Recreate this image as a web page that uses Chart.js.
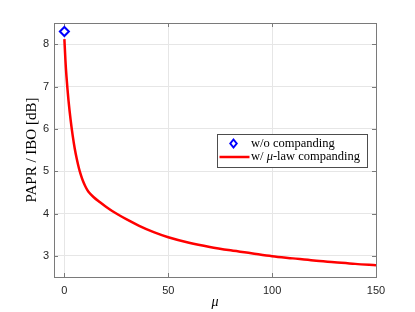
<!DOCTYPE html>
<html>
<head>
<meta charset="utf-8">
<script src="https://cdn.jsdelivr.net/npm/chart.js@4"></script>
<style>
  body { margin: 0; background: #fff; }
  #wrap { width: 415px; height: 312px; }
</style>
</head>
<body>
<div id="wrap"><canvas id="paprChart"></canvas></div>
<script>
// valores
const muCompanded = [0, 0.5, 1, 1.5, 2, 3, 4, 5, 6, 7, 8, 9, 10, 11, 12, 14, 17, 20, 23, 26, 30, 36, 43, 50, 60, 70, 80, 90, 100, 110, 120, 130, 140, 150];
const paprCompanded = [8.12, 7.62, 7.24, 6.93, 6.66, 6.21, 5.84, 5.53, 5.28, 5.07, 4.90, 4.76, 4.65, 4.56, 4.49, 4.39, 4.27, 4.16, 4.06, 3.97, 3.86, 3.71, 3.56, 3.44, 3.31, 3.21, 3.13, 3.06, 2.99, 2.94, 2.89, 2.85, 2.81, 2.78];
const muOriginal = [0];
const paprOriginal = [8.3];

const xTicks = [0, 50, 100, 150];
const yTicks = [3, 4, 5, 6, 7, 8];

const seriesLabels = ['w/o companding', 'w/ \u03bc-law companding'];

const axisColor = '#7a7a7a';
const textColor = '#262626';

// marco de los ejes con marcas hacia dentro (estilo MATLAB)
const boxPlugin = {
    id: 'boxPlugin',
    beforeDatasetsDraw(chart) {
        const { ctx, chartArea: a, scales } = chart;
        const tl = 4;
        ctx.save();
        ctx.strokeStyle = axisColor;
        ctx.lineWidth = 1;
        ctx.beginPath();
        xTicks.forEach(v => {
            const px = Math.round(scales.x.getPixelForValue(v)) + 0.5;
            ctx.moveTo(px, a.bottom); ctx.lineTo(px, a.bottom - tl);
            ctx.moveTo(px, a.top); ctx.lineTo(px, a.top + tl);
        });
        yTicks.forEach(v => {
            const py = Math.round(scales.y.getPixelForValue(v)) + 0.5;
            ctx.moveTo(a.left, py); ctx.lineTo(a.left + tl, py);
            ctx.moveTo(a.right, py); ctx.lineTo(a.right - tl, py);
        });
        ctx.stroke();
        ctx.strokeRect(Math.round(a.left) + 0.5, Math.round(a.top) + 0.5,
            Math.round(a.right - a.left), Math.round(a.bottom - a.top));
        ctx.restore();
    }
};

// leyenda dentro del area del grafico
const legendPlugin = {
    id: 'legendPlugin',
    afterDraw(chart) {
        const { ctx } = chart;
        const ds = chart.data.datasets;
        const box = { x: 217, y: 134, w: 150, h: 33 };
        ctx.save();
        ctx.fillStyle = '#fff';
        ctx.fillRect(box.x, box.y, box.w, box.h);
        ctx.strokeStyle = '#4d4d4d';
        ctx.lineWidth = 1;
        ctx.strokeRect(box.x + 0.5, box.y + 0.5, box.w, box.h);

        const row1 = box.y + 9.5;
        const row2 = box.y + 23;
        // diamante
        ctx.strokeStyle = ds[0].borderColor;
        ctx.fillStyle = '#fff';
        ctx.lineWidth = 2;
        const cx = 233.5, r = 4;
        ctx.beginPath();
        ctx.moveTo(cx, row1 - r); ctx.lineTo(cx + r * 0.8, row1);
        ctx.lineTo(cx, row1 + r); ctx.lineTo(cx - r * 0.8, row1);
        ctx.closePath();
        ctx.fill(); ctx.stroke();
        // linea
        ctx.strokeStyle = ds[1].borderColor;
        ctx.lineWidth = 2.5;
        ctx.beginPath();
        ctx.moveTo(219.5, row2); ctx.lineTo(249.5, row2);
        ctx.stroke();

        ctx.fillStyle = '#000';
        ctx.textBaseline = 'middle';
        ctx.textAlign = 'left';
        const font = '12.5px "Liberation Serif", serif';
        const fontIt = 'italic 12.5px "Liberation Serif", serif';
        const tx = 251;
        ctx.font = font;
        ctx.fillText(ds[0].label, tx, row1);
        // segunda etiqueta con mu en cursiva
        const label = ds[1].label;
        const i = label.indexOf('\u03bc');
        let x = tx;
        const parts = [[label.slice(0, i), font], [label[i], fontIt], [label.slice(i + 1), font]];
        parts.forEach(([t, f]) => {
            ctx.font = f;
            ctx.fillText(t, x, row2);
            x += ctx.measureText(t).width;
        });
        ctx.restore();
    }
};

const ctx = document.getElementById('paprChart').getContext('2d');

const paprChart = new Chart(ctx, {
    type: 'line',
    data: {
        datasets: [{
            label: seriesLabels[0],
            data: muOriginal.map((m, i) => ({ x: m, y: paprOriginal[i] })),
            showLine: false,
            borderColor: '#0000ff',
            backgroundColor: '#ffffff',
            pointStyle: 'rectRot',
            pointRadius: 4.5,
            pointBorderWidth: 2,
            order: 0
        }, {
            label: seriesLabels[1],
            data: muCompanded.map((m, i) => ({ x: m, y: paprCompanded[i] })),
            borderColor: '#ff0000',
            borderWidth: 2.5,
            pointRadius: 0,
            cubicInterpolationMode: 'monotone',
            fill: false,
            order: 1
        }]
    },
    options: {
        responsive: true,
        maintainAspectRatio: false,
        animation: false,
        devicePixelRatio: 1,
        layout: { padding: { left: 0, top: 23, right: 39, bottom: 0 } },
        plugins: {
            legend: { display: false },
            tooltip: { enabled: false }
        },
        scales: {
            x: {
                type: 'linear',
                min: -5,
                max: 150,
                afterBuildTicks: s => { s.ticks = xTicks.map(v => ({ value: v })); },
                afterFit: s => { s.height = 35; },
                grid: { color: '#e6e6e6', drawTicks: false },
                border: { display: false },
                ticks: {
                    padding: 7,
                    color: textColor,
                    font: { family: '"Liberation Sans", Arial, sans-serif', size: 11 }
                },
                title: {
                    display: true,
                    text: '\u03bc',
                    color: '#000',
                    padding: { top: 0, bottom: 1 },
                    font: { family: '"Liberation Serif", serif', size: 14, style: 'italic' }
                }
            },
            y: {
                type: 'linear',
                min: 2.5,
                max: 8.5,
                afterBuildTicks: s => { s.ticks = yTicks.map(v => ({ value: v })); },
                afterFit: s => { s.width = 54; },
                grid: { color: '#e6e6e6', drawTicks: false },
                border: { display: false },
                ticks: {
                    padding: 5,
                    color: textColor,
                    font: { family: '"Liberation Sans", Arial, sans-serif', size: 11 }
                },
                title: {
                    display: true,
                    text: 'PAPR / IBO [dB]',
                    color: '#000',
                    padding: { top: 23, bottom: 0 },
                    font: { family: '"Liberation Serif", serif', size: 15 }
                }
            }
        }
    },
    plugins: [boxPlugin, legendPlugin]
});
</script>
</body>
</html>
